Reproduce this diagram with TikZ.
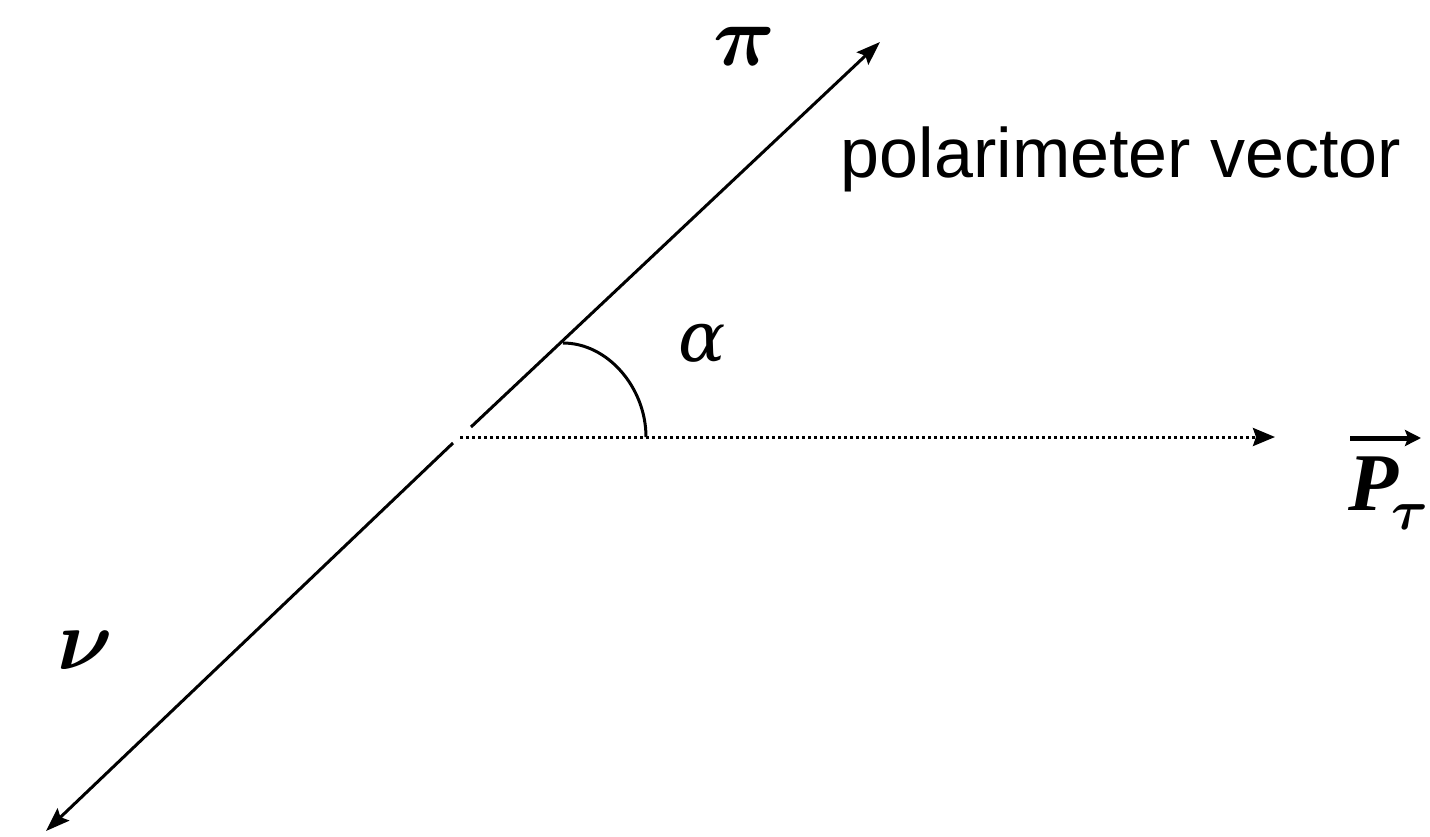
\documentclass[tikz,border=0pt]{standalone}
\usepackage{fix-cm}
\usepackage{amsmath}
\usepackage{fontspec}
\setmainfont{Liberation Serif}
\newfontfamily\labelsans{Liberation Sans}
\newfontfamily\alphafont{DejaVu Serif}
\usetikzlibrary{arrows.meta}
\tikzset{
  axisline/.style={line width=3pt, -{Stealth[length=24pt,width=17pt,inset=4pt]}},
  dotline/.style={line width=3pt, dash pattern=on 3pt off 3pt, -{Stealth[length=22pt,width=18pt,inset=3pt]}},
  anglearc/.style={line width=3pt},
  vecarrow/.style={line width=5pt, -{Stealth[length=16pt,width=16pt,inset=3pt]}},
  greek/.style={inner sep=0pt, font=\fontsize{86}{90}\selectfont},
  alphalbl/.style={inner sep=0pt, font=\fontsize{70}{76}\selectfont\alphafont\itshape},
  sanslbl/.style={inner sep=0pt, font=\fontsize{70}{80}\selectfont\labelsans},
}
\begin{document}
\begin{tikzpicture}[x=1pt,y=-1pt]
\useasboundingbox (0,0) rectangle (1430,836);
% key points
\coordinate (ustart) at (471,427);
\coordinate (uend) at (880,42);
\coordinate (lstart) at (453,443);
\coordinate (lend) at (46,831);
\coordinate (dstart) at (460,437);
\coordinate (dend) at (1275,437);
\coordinate (arcA) at (563,343);
\coordinate (arcB) at (646,437);
\coordinate (vecS) at (1350,438);
\coordinate (vecE) at (1421,438);
% lines
\draw[axisline] (ustart) -- (uend);
\draw[axisline] (lstart) -- (lend);
\draw[dotline] (dstart) -- (dend);
\draw[anglearc] (arcA) .. controls (608,343) and (646,388) .. (arcB);
% labels
\node[greek] (pi) at (744,46) {$\boldsymbol{\pi}$};
\node[greek] (nu) at (85,650) {$\boldsymbol{\nu}$};
\node[alphalbl] (alpha) at (702,343) {α};
\node[sanslbl, anchor=base] (polvec) at (1121,177) {polarimeter vector};
\node[inner sep=0pt, anchor=base west] (Ptau) at (1348,510)
  {\fontsize{82}{88}\selectfont\bfseries\itshape P\kern-7pt\raisebox{-19pt}{\fontsize{56}{60}\selectfont$\boldsymbol{\tau}$}};
\draw[vecarrow] (vecS) -- (vecE);
\end{tikzpicture}
\end{document}
